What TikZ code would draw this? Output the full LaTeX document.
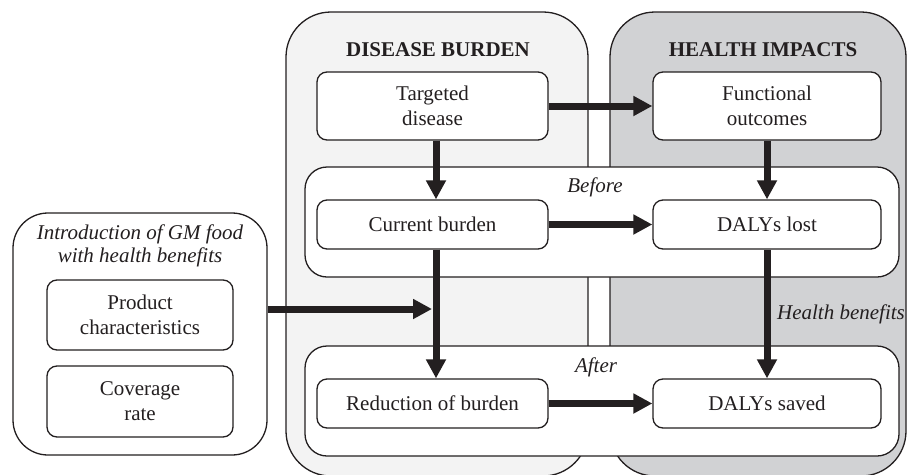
\documentclass[tikz,border=0pt]{standalone}
\usepackage{fontspec}
\setmainfont{Liberation Serif}
\usetikzlibrary{arrows.meta,calc}
\definecolor{ink}{HTML}{231F20}
\definecolor{lightpanel}{HTML}{F3F3F3}
\definecolor{darkpanel}{HTML}{D1D2D4}
\begin{document}
\begin{tikzpicture}[x=1pt,y=-1pt,
  txt/.style={font=\fontsize{21}{25}\selectfont, text=ink, align=center, inner sep=0pt},
  panel/.style={draw=ink, line width=1.3pt, rounded corners=45pt, inner sep=0pt},
  group/.style={draw=ink, line width=1.3pt, fill=white, rounded corners=22pt, inner sep=0pt},
  box/.style={txt, draw=ink, line width=1.3pt, fill=white, rounded corners=10pt},
  arr/.style={draw=ink, line width=7pt, -{Triangle[length=19pt,width=19pt]}}]
\useasboundingbox (0,0) rectangle (907,474);
% panels
\node[panel, fill=lightpanel, minimum width=302pt, minimum height=464pt] (dis) at (437,244) {};
\node[panel, fill=darkpanel, minimum width=296pt, minimum height=464pt] (hea) at (758,244) {};
\node[panel, fill=white, rounded corners=35pt, minimum width=254pt, minimum height=242pt] (intro) at (140,334) {};
% titles
\node[txt, font=\fontsize{21}{25}\selectfont\bfseries] (tdis) at (438,50) {DISEASE BURDEN};
\node[txt, font=\fontsize{21}{25}\selectfont\bfseries] (thea) at (763,50) {HEALTH IMPACTS};
% before / after groups
\node[group, minimum width=594pt, minimum height=110pt] (before) at (602,222) {};
\node[group, minimum width=594pt, minimum height=110pt] (after) at (602,401) {};
\node[txt, font=\fontsize{21}{25}\selectfont\itshape] (lbefore) at (595,187) {Before};
\node[txt, font=\fontsize{21}{25}\selectfont\itshape] (lafter) at (596,367) {After};
\node[txt, font=\fontsize{21}{25}\selectfont\itshape] (lbenefit) at (841,314) {Health benefits};
\node[txt, font=\fontsize{21}{23}\selectfont\itshape] (lintro) at (140,246) {Introduction of GM food\\with health benefits};
% boxes
\node[box, minimum width=231pt, minimum height=68pt] (tgt) at (432.5,106) {Targeted\\disease};
\node[box, minimum width=228pt, minimum height=68pt] (fun) at (767,106) {Functional\\outcomes};
\node[box, minimum width=231pt, minimum height=49pt] (cur) at (432.5,224.5) {Current burden};
\node[box, minimum width=228pt, minimum height=49pt] (lost) at (767,224.5) {DALYs lost};
\node[box, minimum width=231pt, minimum height=49pt] (red) at (432.5,403.5) {Reduction of burden};
\node[box, minimum width=228pt, minimum height=49pt] (saved) at (767,403.5) {DALYs saved};
\node[box, minimum width=186pt, minimum height=70pt] (prod) at (140,315) {Product\\characteristics};
\node[box, minimum width=186pt, minimum height=71pt] (cov) at (140,401.5) {Coverage\\rate};
% arrows
\coordinate (colL) at (436,0);
\coordinate (join) at (432,309);
\draw[arr] (tgt.east) -- (fun.west);
\draw[arr] (cur.east) -- (lost.west);
\draw[arr] (red.east) -- (saved.west);
\draw[arr] (tgt.south -| colL) -- (cur.north -| colL);
\draw[arr] (cur.south -| colL) -- (red.north -| colL);
\draw[arr] (fun.south) -- (lost.north);
\draw[arr] (lost.south) -- (saved.north);
\draw[arr] (intro.east |- join) -- (join);
\end{tikzpicture}
\end{document}
